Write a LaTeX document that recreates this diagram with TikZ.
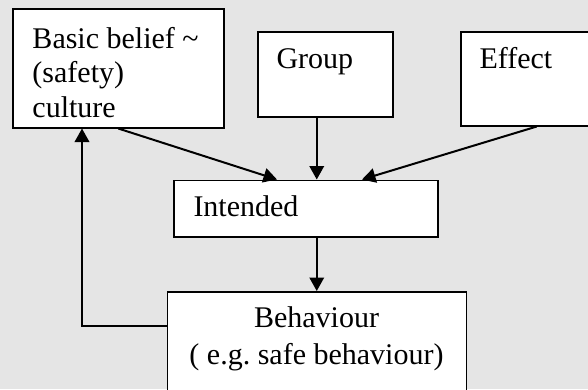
\documentclass[tikz,border=0pt]{standalone}
\usepackage{fontspec}
\setmainfont{Liberation Serif}
\usetikzlibrary{positioning,calc,arrows.meta}

\begin{document}
\begin{tikzpicture}[x=0.4pt,y=-0.4pt,>={Triangle[length=5.4pt,width=5.8pt]},
        box/.style={draw,fill=white,line width=0.6pt,inner sep=0pt,anchor=north west},
        txt/.style={inner sep=0pt,anchor=base west,font=\fontsize{12}{13.8}\selectfont}]
        \fill[black!10] (0,0) rectangle (588,389);
        \useasboundingbox (0,0) rectangle (588,389);
        \clip (0,0) rectangle (588,389);
        % boxes
        \node[box,minimum width=84.4pt,minimum height=47.6pt] (belief) at (12,8) {};
        \node[box,minimum width=54pt,minimum height=34pt] (group) at (257,31) {};
        \node[box,minimum width=60.8pt,minimum height=37.6pt] (effect) at (460,31) {};
        \node[box,minimum width=105.6pt,minimum height=22.6pt] (intended) at (173,179.5) {};
        \node[box,minimum width=119.6pt,minimum height=44pt] (behav) at (166.5,291) {};
        % texts (base = last line)
        \node[txt,align=left] (belieftxt) at (32,117.3) {Basic belief \textasciitilde\\(safety)\\culture};
        \node[txt] (grouptxt) at (276,68) {Group};
        \node[txt] (effecttxt) at (479,68) {Effect};
        \node[txt] (intendedtxt) at (193,216.7) {Intended};
        \node[txt,align=center,anchor=base,font=\fontsize{12}{14.8}\selectfont] (behavtxt) at (316.5,364) {Behaviour\\( e.g.\ safe behaviour)};
        % arrows
        \draw[->,line width=0.8pt] (belief.south) -- ($(intended.north west)+(104,0)$);
        \draw[->,line width=0.8pt] (group.south -| behav.north) -- (intended.north -| behav.north);
        \draw[->,line width=0.8pt] (effect.south) -- ($(intended.north west)+(189,0)$);
        \draw[->,line width=0.8pt] (intended.south -| behav.north) -- (behav.north);
        \draw[->,line width=0.8pt] ($(behav.north west)+(0,35)$) -| ($(belief.south west)+(70,0)$);
\end{tikzpicture}
\end{document}
